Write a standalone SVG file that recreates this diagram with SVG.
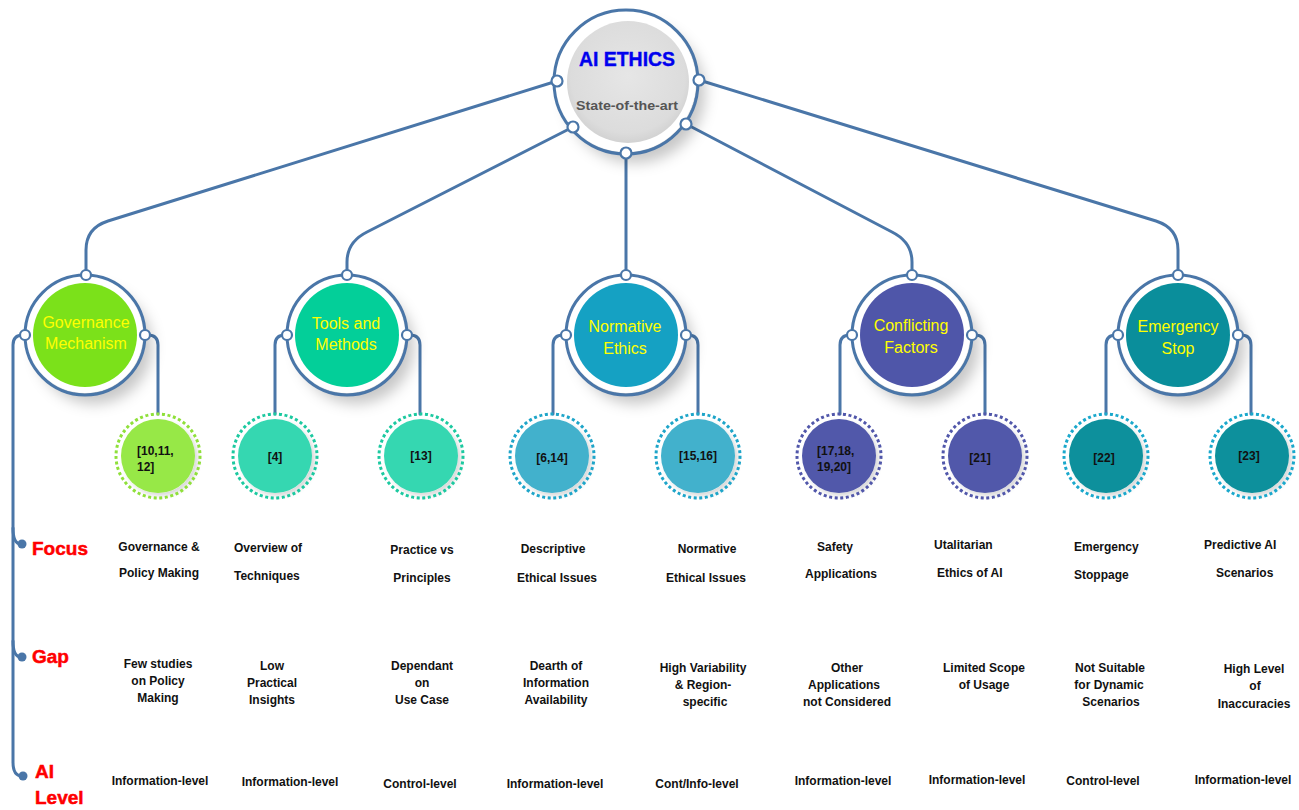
<svg xmlns="http://www.w3.org/2000/svg" width="1299" height="810" viewBox="0 0 1299 810">
<style>
.conn{fill:none;stroke:#4a76a8;stroke-width:3;stroke-linecap:round}
.ring{fill:none;stroke:#4a76a8;stroke-width:3}
.port{fill:#fff;stroke:#4a76a8;stroke-width:2.2}
.dot{fill:#4a76a8}
.t2{font-family:"Liberation Sans",Arial,sans-serif;font-size:16px;fill:#ffff00;text-anchor:middle}
.t3{font-family:"Liberation Sans",Arial,sans-serif;font-size:12px;font-weight:bold;fill:#111}
.tx{font-family:"Liberation Sans",Arial,sans-serif;font-size:12px;font-weight:bold;fill:#111;text-anchor:middle}
.lbl{font-family:"Liberation Sans",Arial,sans-serif;font-size:19px;font-weight:bold;fill:#ff0000;stroke:#ff0000;stroke-width:0.5}
.dr{fill:none;stroke-width:3;stroke-dasharray:3 2.6}
</style>
<defs>
<filter id="sh" x="-50%" y="-50%" width="200%" height="200%">
<feDropShadow dx="9" dy="11" stdDeviation="7" flood-color="#000" flood-opacity="0.22"/>
</filter>
<filter id="sh3" x="-50%" y="-50%" width="200%" height="200%">
<feDropShadow dx="3" dy="3" stdDeviation="2" flood-color="#000" flood-opacity="0.15"/>
</filter>
<radialGradient id="gray" cx="50%" cy="45%" r="55%">
<stop offset="0" stop-color="#e6e6e6"/>
<stop offset="0.85" stop-color="#dcdcdc"/>
<stop offset="1" stop-color="#d2d2d2"/>
</radialGradient>
</defs>
<rect width="1299" height="810" fill="#fff"/>

<g id="connectors">
<path class="conn" d="M557,81 L108,221 Q86,228 86,250 L86,270"/>
<path class="conn" d="M573,127 L367,232 Q347,242 347,262 L347,270"/>
<path class="conn" d="M626,153 L626,270"/>
<path class="conn" d="M686,124 L892,232 Q912,242 912,262 L912,270"/>
<path class="conn" d="M699,80 L1156,221 Q1178,228 1178,250 L1178,270"/>
<path class="conn" d="M25,335 L23,335 Q13,335 13,345 L13,762 Q13,776 22,776"/>
<path class="conn" d="M13,528 Q13,544 21,544"/>
<path class="conn" d="M13,641 Q13,657 21,657"/>
<path class="conn" d="M145,335 L148,335 Q158,335 158,345 L158,414"/>
<path class="conn" d="M287,335 L285,335 Q275,335 275,345 L275,414"/>
<path class="conn" d="M407,335 L410,335 Q420,335 420,345 L420,414"/>
<path class="conn" d="M566,335 L563,335 Q553,335 553,345 L553,414"/>
<path class="conn" d="M686,335 L688,335 Q698,335 698,345 L698,414"/>
<path class="conn" d="M852,335 L850,335 Q840,335 840,345 L840,414"/>
<path class="conn" d="M972,335 L975,335 Q985,335 985,345 L985,414"/>
<path class="conn" d="M1118,335 L1116,335 Q1106,335 1106,345 L1106,414"/>
<path class="conn" d="M1238,335 L1241,335 Q1251,335 1251,345 L1251,414"/>
<circle class="dot" cx="22" cy="544" r="4.5"/>
<circle class="dot" cx="22" cy="657" r="4.5"/>
<circle class="dot" cx="23" cy="776" r="4.5"/>
</g>

<g id="root">
<circle cx="626" cy="82" r="70" fill="#fff" filter="url(#sh)"/>
<circle cx="628" cy="82" r="61" fill="url(#gray)"/>
<circle class="ring" cx="626" cy="82" r="72"/>
<text x="627" y="66" font-family="Liberation Sans,Arial,sans-serif" font-size="21" font-weight="bold" fill="#0000ee" stroke="#0000ee" stroke-width="0.4" text-anchor="middle" textLength="96" lengthAdjust="spacingAndGlyphs">AI ETHICS</text>
<text x="627" y="110" font-family="Liberation Sans,Arial,sans-serif" font-size="13.5" font-weight="bold" fill="#555" text-anchor="middle" textLength="102" lengthAdjust="spacingAndGlyphs">State-of-the-art</text>
<circle class="port" cx="557" cy="81" r="5.5"/>
<circle class="port" cx="699" cy="80" r="5.5"/>
<circle class="port" cx="573" cy="127" r="5.5"/>
<circle class="port" cx="686" cy="124" r="5.5"/>
<circle class="port" cx="626" cy="153" r="5.5"/>
</g>

<g id="governance">
<circle cx="85" cy="335" r="58" fill="#fff" filter="url(#sh)"/>
<circle cx="85" cy="335" r="52" fill="#7be11a"/>
<circle class="ring" cx="85" cy="335" r="60"/>
<text class="t2" x="86" y="328">Governance</text>
<text class="t2" x="86" y="349">Mechanism</text>
<circle class="port" cx="86" cy="275" r="5"/>
<circle class="port" cx="25" cy="335" r="5"/>
<circle class="port" cx="145" cy="335" r="5"/>
</g>

<g id="tools">
<circle cx="347" cy="335" r="58" fill="#fff" filter="url(#sh)"/>
<circle cx="347" cy="335" r="52" fill="#03cf99"/>
<circle class="ring" cx="347" cy="335" r="60"/>
<text class="t2" x="346" y="329">Tools and</text>
<text class="t2" x="346" y="350">Methods</text>
<circle class="port" cx="347" cy="275" r="5"/>
<circle class="port" cx="287" cy="335" r="5"/>
<circle class="port" cx="407" cy="335" r="5"/>
</g>

<g id="normative">
<circle cx="626" cy="335" r="58" fill="#fff" filter="url(#sh)"/>
<circle cx="626" cy="335" r="52" fill="#15a1c3"/>
<circle class="ring" cx="626" cy="335" r="60"/>
<text class="t2" x="625" y="332">Normative</text>
<text class="t2" x="625" y="354">Ethics</text>
<circle class="port" cx="626" cy="275" r="5"/>
<circle class="port" cx="566" cy="335" r="5"/>
<circle class="port" cx="686" cy="335" r="5"/>
</g>

<g id="conflicting">
<circle cx="912" cy="335" r="58" fill="#fff" filter="url(#sh)"/>
<circle cx="912" cy="335" r="52" fill="#4f56a9"/>
<circle class="ring" cx="912" cy="335" r="60"/>
<text class="t2" x="911" y="331">Conflicting</text>
<text class="t2" x="911" y="353">Factors</text>
<circle class="port" cx="912" cy="275" r="5"/>
<circle class="port" cx="852" cy="335" r="5"/>
<circle class="port" cx="972" cy="335" r="5"/>
</g>

<g id="emergency">
<circle cx="1178" cy="335" r="58" fill="#fff" filter="url(#sh)"/>
<circle cx="1178" cy="335" r="52" fill="#0a8e9b"/>
<circle class="ring" cx="1178" cy="335" r="60"/>
<text class="t2" x="1178" y="332">Emergency</text>
<text class="t2" x="1178" y="354">Stop</text>
<circle class="port" cx="1178" cy="275" r="5"/>
<circle class="port" cx="1118" cy="335" r="5"/>
<circle class="port" cx="1238" cy="335" r="5"/>
</g>

<g id="ref-10-11-12">
<circle cx="158" cy="456" r="37" fill="#97e846" filter="url(#sh3)"/>
<circle class="dr" cx="158" cy="456" r="42" stroke="#8fe03a"/>
<text class="t3" x="137" y="455">[10,11,</text>
<text class="t3" x="137" y="471">12]</text>
</g>
<g id="ref-4">
<circle cx="275" cy="456" r="37" fill="#36d7b1" filter="url(#sh3)"/>
<circle class="dr" cx="275" cy="456" r="42" stroke="#1cc9a0"/>
<text class="tx" x="275" y="461">[4]</text>
</g>
<g id="ref-13">
<circle cx="421" cy="456" r="37" fill="#36d7b1" filter="url(#sh3)"/>
<circle class="dr" cx="421" cy="456" r="42" stroke="#1cc9a0"/>
<text class="tx" x="421" y="460">[13]</text>
</g>
<g id="ref-6-14">
<circle cx="552" cy="456" r="37" fill="#42b1cc" filter="url(#sh3)"/>
<circle class="dr" cx="552" cy="456" r="42" stroke="#1ea5c9"/>
<text class="tx" x="552" y="462">[6,14]</text>
</g>
<g id="ref-15-16">
<circle cx="698" cy="456" r="37" fill="#42b1cc" filter="url(#sh3)"/>
<circle class="dr" cx="698" cy="456" r="42" stroke="#1ea5c9"/>
<text class="tx" x="698" y="460">[15,16]</text>
</g>
<g id="ref-17-20">
<circle cx="839" cy="456" r="37" fill="#5159aa" filter="url(#sh3)"/>
<circle class="dr" cx="839" cy="456" r="42" stroke="#5157aa"/>
<text class="t3" x="817" y="455">[17,18,</text>
<text class="t3" x="817" y="471">19,20]</text>
</g>
<g id="ref-21">
<circle cx="985" cy="456" r="37" fill="#5159aa" filter="url(#sh3)"/>
<circle class="dr" cx="985" cy="456" r="42" stroke="#5157aa"/>
<text class="tx" x="980" y="462">[21]</text>
</g>
<g id="ref-22">
<circle cx="1106" cy="456" r="37" fill="#0b909c" filter="url(#sh3)"/>
<circle class="dr" cx="1106" cy="456" r="42" stroke="#1aa8cc"/>
<text class="tx" x="1104" y="462">[22]</text>
</g>
<g id="ref-23">
<circle cx="1252" cy="456" r="37" fill="#0b909c" filter="url(#sh3)"/>
<circle class="dr" cx="1252" cy="456" r="42" stroke="#1aa8cc"/>
<text class="tx" x="1249" y="460">[23]</text>
</g>

<g id="row-labels">
<text class="lbl" x="32" y="555">Focus</text>
<text class="lbl" x="32" y="663">Gap</text>
<text class="lbl" x="35" y="778">AI</text>
<text class="lbl" x="35" y="804">Level</text>
</g>

<g id="focus">
<text class="tx" x="159" y="551">Governance &amp;</text>
<text class="tx" x="159" y="577">Policy Making</text>
<text class="t3" x="234" y="552">Overview of</text>
<text class="t3" x="234" y="580">Techniques</text>
<text class="tx" x="422" y="554">Practice vs</text>
<text class="tx" x="422" y="582">Principles</text>
<text class="tx" x="553" y="553">Descriptive</text>
<text class="tx" x="557" y="582">Ethical Issues</text>
<text class="tx" x="707" y="553">Normative</text>
<text class="tx" x="706" y="582">Ethical Issues</text>
<text class="t3" x="817" y="551">Safety</text>
<text class="t3" x="805" y="578">Applications</text>
<text class="t3" x="934" y="549">Utalitarian</text>
<text class="t3" x="937" y="577">Ethics of AI</text>
<text class="t3" x="1074" y="551">Emergency</text>
<text class="t3" x="1074" y="579">Stoppage</text>
<text class="t3" x="1204" y="549">Predictive AI</text>
<text class="t3" x="1216" y="577">Scenarios</text>
</g>

<g id="gap">
<text class="tx" x="158" y="668">Few studies</text>
<text class="tx" x="158" y="685">on Policy</text>
<text class="tx" x="158" y="702">Making</text>
<text class="tx" x="272" y="670">Low</text>
<text class="tx" x="272" y="687">Practical</text>
<text class="tx" x="272" y="704">Insights</text>
<text class="tx" x="422" y="670">Dependant</text>
<text class="tx" x="422" y="687">on</text>
<text class="tx" x="422" y="704">Use Case</text>
<text class="tx" x="556" y="670">Dearth of</text>
<text class="tx" x="556" y="687">Information</text>
<text class="tx" x="556" y="704">Availability</text>
<text class="tx" x="703" y="672">High Variability</text>
<text class="tx" x="703" y="689">&amp; Region-</text>
<text class="tx" x="705" y="706">specific</text>
<text class="tx" x="847" y="672">Other</text>
<text class="tx" x="844" y="689">Applications</text>
<text class="tx" x="847" y="706">not Considered</text>
<text class="tx" x="984" y="672">Limited Scope</text>
<text class="tx" x="984" y="689">of Usage</text>
<text class="tx" x="1110" y="672">Not Suitable</text>
<text class="tx" x="1109" y="689">for Dynamic</text>
<text class="tx" x="1111" y="706">Scenarios</text>
<text class="tx" x="1254" y="673">High Level</text>
<text class="tx" x="1255" y="690">of</text>
<text class="tx" x="1254" y="708">Inaccuracies</text>
</g>

<g id="ai-level">
<text class="tx" x="160" y="785">Information-level</text>
<text class="tx" x="290" y="786">Information-level</text>
<text class="tx" x="420" y="788">Control-level</text>
<text class="tx" x="555" y="788">Information-level</text>
<text class="tx" x="697" y="788">Cont/Info-level</text>
<text class="tx" x="843" y="785">Information-level</text>
<text class="tx" x="977" y="784">Information-level</text>
<text class="tx" x="1103" y="785">Control-level</text>
<text class="tx" x="1243" y="784">Information-level</text>
</g>
</svg>
